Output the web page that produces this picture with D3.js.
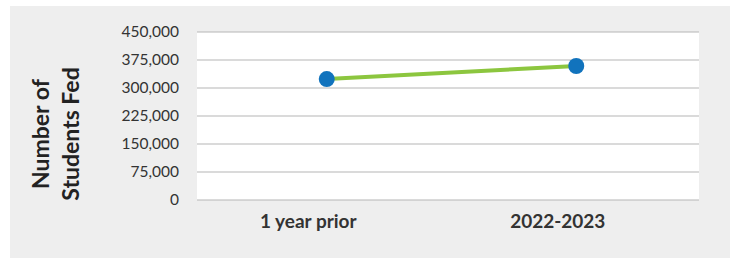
<!DOCTYPE html>
<html lang="en">
<head>
    <meta charset="UTF-8">
    <title>Number of Students Fed</title>
    <script src="https://d3js.org/d3.v7.min.js"></script>
    <style>
        body { margin: 0; background: #fff; font-family: Lato, "Noto Sans", sans-serif; }
        .grid line { stroke: #b5b5b5; stroke-width: 1.2px; }
        .tick text { fill: #333; }
    </style>
</head>
<body>
    <div id="chart"></div>
    <script>
        // Chart data
        const categories = ["1 year prior", "2022-2023"];
        const studentsFed = [324000, 359000];
        const yTicks = [0, 75000, 150000, 225000, 300000, 375000, 450000];

        const width = 735, height = 259;
        const plot = { left: 197, right: 699, top: 32, bottom: 200 };

        const svg = d3.select("#chart").append("svg")
            .attr("width", width)
            .attr("height", height);

        // Grey panel behind chart
        svg.append("rect")
            .attr("x", 10).attr("y", 6)
            .attr("width", 720).attr("height", 252)
            .attr("fill", "#eeeeee");

        svg.append("rect")
            .attr("x", plot.left).attr("y", plot.top)
            .attr("width", plot.right - plot.left).attr("height", plot.bottom - plot.top)
            .attr("fill", "#ffffff");

        const x = d3.scalePoint()
            .domain(categories)
            .range([plot.left + 5, plot.right + 2])
            .padding(0.5);

        const y = d3.scaleLinear()
            .domain([0, 450000])
            .range([plot.bottom, plot.top]);

        // Gridlines
        svg.append("g")
            .attr("class", "grid")
            .selectAll("line")
            .data(yTicks)
            .enter().append("line")
            .attr("x1", plot.left).attr("x2", plot.right)
            .attr("y1", d => y(d)).attr("y2", d => y(d));

        // Y axis labels
        const yAxis = svg.append("g")
            .attr("transform", `translate(${plot.left},0)`)
            .call(d3.axisLeft(y).tickValues(yTicks).tickFormat(d3.format(",")).tickSize(0).tickPadding(18));
        yAxis.select(".domain").remove();
        yAxis.selectAll("text").attr("font-size", 15.5).attr("font-family", "Lato, sans-serif");

        // X axis labels (sit a little left of the points, as in the original)
        const xAxis = svg.append("g")
            .attr("transform", `translate(-19,${plot.bottom})`)
            .call(d3.axisBottom(x).tickSize(0).tickPadding(15));
        xAxis.select(".domain").remove();
        xAxis.selectAll("text")
            .attr("font-size", 19)
            .attr("font-weight", "bold")
            .attr("font-family", "Lato, sans-serif")
            .attr("fill", "#222");

        // Y axis title
        const title = svg.append("text")
            .attr("transform", "translate(56,134) rotate(-90)")
            .attr("text-anchor", "middle")
            .attr("font-size", 23)
            .attr("font-weight", "bold")
            .attr("font-family", "Lato, sans-serif")
            .attr("fill", "#222");
        title.append("tspan").attr("x", 0).attr("dy", "-0.3em").text("Number of");
        title.append("tspan").attr("x", 0).attr("dy", "1.3em").text("Students Fed");

        // Line and markers
        const line = d3.line()
            .x((d, i) => x(categories[i]))
            .y(d => y(d));

        svg.append("path")
            .datum(studentsFed)
            .attr("d", line)
            .attr("fill", "none")
            .attr("stroke", "#8cc63f")
            .attr("stroke-width", 4);

        svg.selectAll(".dot")
            .data(studentsFed)
            .enter().append("circle")
            .attr("class", "dot")
            .attr("cx", (d, i) => x(categories[i]))
            .attr("cy", d => y(d))
            .attr("r", 8)
            .attr("fill", "#1173bd");
    </script>
</body>
</html>
